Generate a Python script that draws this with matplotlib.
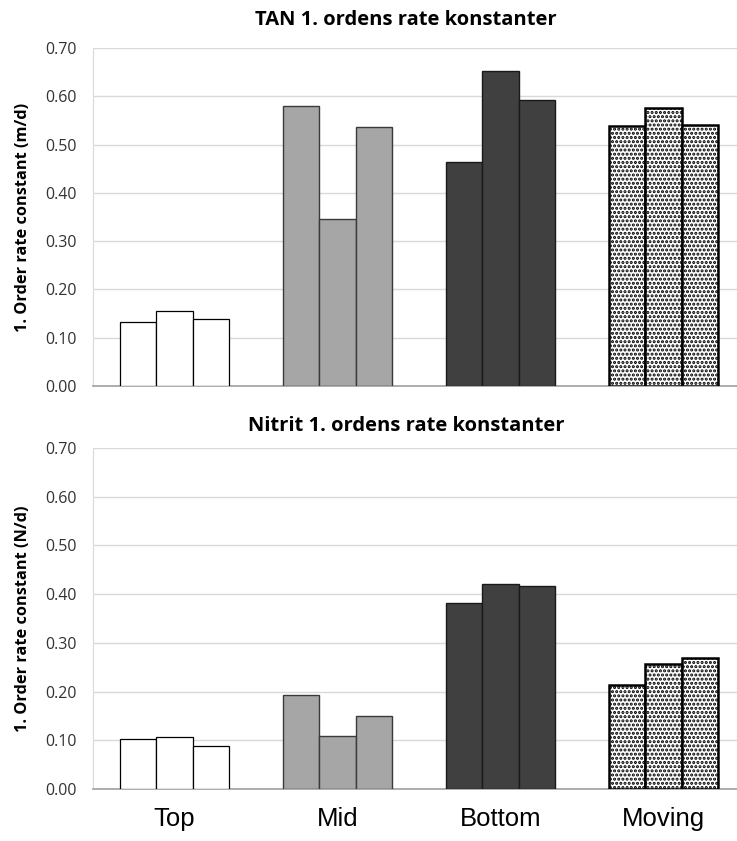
import numpy as np
import matplotlib.pyplot as plt

plt.rcParams.update({
    "font.family": ["Open Sans", "DejaVu Sans"],
    "hatch.linewidth": 1.5,
})

groups = ["Top", "Mid", "Bottom", "Moving"]
tan_vals = [
    [0.133, 0.156, 0.138],
    [0.579, 0.345, 0.537],
    [0.463, 0.653, 0.593],
    [0.538, 0.575, 0.540],
]
nitrit_vals = [
    [0.103, 0.106, 0.089],
    [0.192, 0.108, 0.149],
    [0.382, 0.420, 0.417],
    [0.213, 0.256, 0.269],
]
yticks = [0.0, 0.1, 0.2, 0.3, 0.4, 0.5, 0.6, 0.7]

fills = ["white", "#a6a6a6", "#404040", "white"]
hatches = [None, None, None, "...."]
edges = ["black", "#3a3a3a", "#1a1a1a", "black"]
lws = [0.9, 1.0, 1.0, 1.8]

W, H = 737, 841
fig = plt.figure(figsize=(W / 100, H / 100), dpi=100)

def panel(rect, vals, title, ylabel, title_y, show_x):
    ax = fig.add_axes(rect)
    bw = 0.223
    for i, grp in enumerate(vals):
        x = i + (np.arange(3) - 1) * bw
        ax.bar(x, grp, width=bw, color=fills[i], edgecolor=edges[i],
               linewidth=lws[i], hatch=hatches[i], zorder=3)
    ax.set_xlim(-0.5, 3.45)
    ax.set_ylim(0, 0.7)
    ax.set_yticks(yticks)
    ax.set_yticklabels([f"{v:.2f}" for v in yticks], fontsize=11.5, color="#333333")
    ax.yaxis.grid(True, color="#d9d9d9", lw=1.0, zorder=0)
    ax.set_axisbelow(True)
    ax.tick_params(length=0)
    ax.tick_params(axis="y", pad=12)
    for s in ["top", "right"]:
        ax.spines[s].set_visible(False)
    ax.spines["left"].set_color("#d9d9d9")
    ax.spines["bottom"].set_color("#a0a0a0")
    ax.spines["bottom"].set_linewidth(1.2)
    ax.set_xticks(range(4))
    if show_x:
        ax.set_xticklabels(groups, fontsize=18.5, family="Liberation Sans")
        ax.tick_params(axis="x", pad=13)
    else:
        ax.set_xticklabels([])
    ax.set_ylabel(ylabel, fontsize=11.8, fontweight="bold", labelpad=10)
    fig.text(406 / W, title_y, title, ha="center", va="center",
             fontsize=14.5, fontweight="bold")
    return ax

panel([93 / W, (H - 386) / H, 644 / W, 338 / H], tan_vals,
      "TAN 1. ordens rate konstanter", "1. Order rate constant (m/d)",
      1 - 20 / H, False)
panel([93 / W, (H - 789) / H, 644 / W, 341 / H], nitrit_vals,
      "Nitrit 1. ordens rate konstanter", "1. Order rate constant (N/d)",
      1 - 426 / H, True)

fig.savefig("out.png", dpi=100)
